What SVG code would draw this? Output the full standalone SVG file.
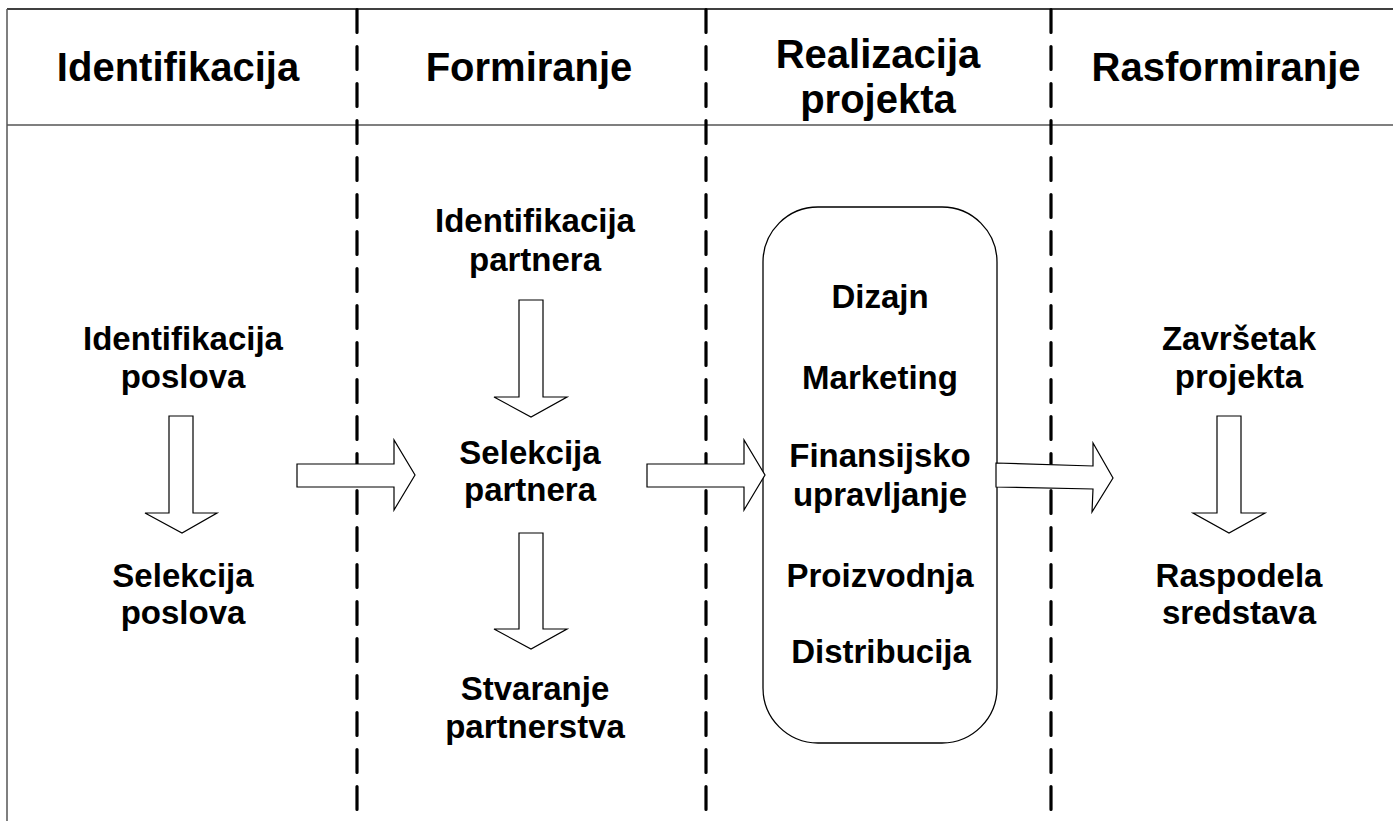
<svg xmlns="http://www.w3.org/2000/svg" width="1393" height="821" viewBox="0 0 1393 821">
<style>
.t{font-family:"Liberation Sans",Arial,sans-serif;font-weight:bold;fill:#000;text-anchor:middle}
.h{font-size:40px}
.b{font-size:33px}
.arr{fill:#fff;stroke:#000;stroke-width:1.2;stroke-linejoin:miter}
.dash{stroke:#000;stroke-width:3.2;stroke-dasharray:23 14;stroke-linecap:round;fill:none}
</style>
<rect width="1393" height="821" fill="#fff"/>
<g id="frame">
<line x1="7" y1="9" x2="1393" y2="9" stroke="#000" stroke-width="1.5"/>
<line x1="7" y1="125" x2="1393" y2="125" stroke="#555" stroke-width="1.5"/>
<line x1="7" y1="9" x2="7" y2="821" stroke="#555" stroke-width="1.5"/>
</g>
<g id="dividers">
<line class="dash" x1="357" y1="9.5" x2="357" y2="821"/>
<line class="dash" x1="706" y1="9.5" x2="706" y2="821"/>
<line class="dash" x1="1051" y1="9.5" x2="1051" y2="821"/>
</g>
<g id="headers">
<text class="t h" x="178" y="81">Identifikacija</text>
<text class="t h" x="529" y="81">Formiranje</text>
<text class="t h" x="878" y="68">Realizacija</text>
<text class="t h" x="878" y="113">projekta</text>
<text class="t h" x="1226" y="81">Rasformiranje</text>
</g>
<g id="realizacija-box">
<rect x="763" y="207" width="234" height="536" rx="55" ry="55" fill="#fff" stroke="#000" stroke-width="1.3"/>
</g>
<g id="connectors">
<polygon class="arr" points="169,416 193,416 193,513 217,513 182,533 145,513 169,513"/>
<polygon class="arr" points="519,300 543,300 543,397 567,397 531,417 494,397 519,397"/>
<polygon class="arr" points="519,533 543,533 543,629 567,629 531,649 494,629 519,629"/>
<polygon class="arr" points="1217,416 1241,416 1241,513 1265,513 1229,533 1193,513 1217,513"/>
<polygon class="arr" points="297,464 394,464 394,440 415,475 394,510 394,487 297,487"/>
<polygon class="arr" points="647,464 744,464 744,440 765,475 744,510 744,487 647,487"/>
<polygon class="arr" points="996,463 1093,466 1093,443 1113,478 1092,512 1093,489 996,487"/>
</g>
<g id="node-identifikacija-poslova"><text class="t b" x="183" y="350">Identifikacija</text><text class="t b" x="183" y="388">poslova</text></g>
<g id="node-selekcija-poslova"><text class="t b" x="183" y="587">Selekcija</text><text class="t b" x="183" y="624">poslova</text></g>
<g id="node-identifikacija-partnera"><text class="t b" x="535" y="232">Identifikacija</text><text class="t b" x="535" y="271">partnera</text></g>
<g id="node-selekcija-partnera"><text class="t b" x="530" y="464">Selekcija</text><text class="t b" x="530" y="501">partnera</text></g>
<g id="node-stvaranje-partnerstva"><text class="t b" x="535" y="700">Stvaranje</text><text class="t b" x="535" y="738">partnerstva</text></g>
<g id="node-realizacija-items">
<text class="t b" x="880" y="308">Dizajn</text>
<text class="t b" x="880" y="389">Marketing</text>
<text class="t b" x="880" y="467">Finansijsko</text>
<text class="t b" x="880" y="506">upravljanje</text>
<text class="t b" x="880" y="587">Proizvodnja</text>
<text class="t b" x="881" y="663">Distribucija</text>
</g>
<g id="node-zavrsetak-projekta"><text class="t b" x="1239" y="350">Završetak</text><text class="t b" x="1239" y="388">projekta</text></g>
<g id="node-raspodela-sredstava"><text class="t b" x="1239" y="587">Raspodela</text><text class="t b" x="1239" y="624">sredstava</text></g>
</svg>
